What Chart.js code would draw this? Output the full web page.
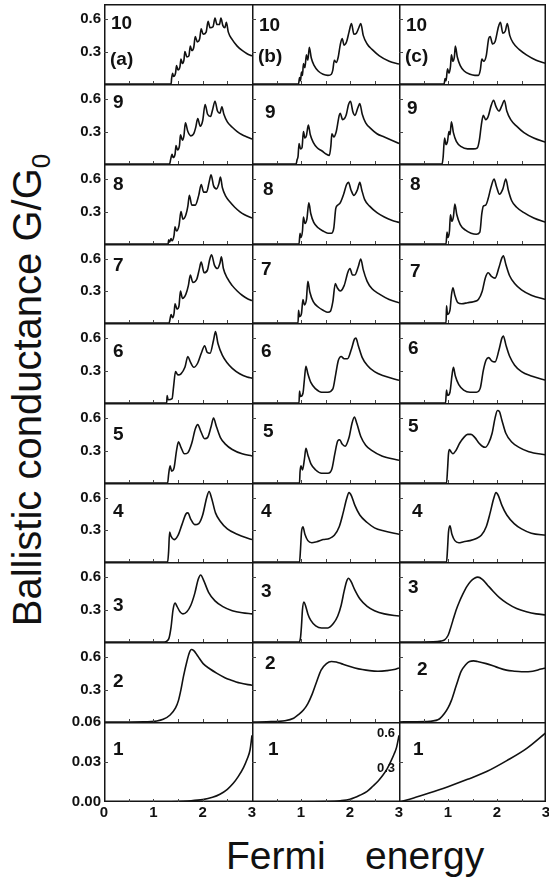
<!DOCTYPE html>
<html>
<head>
<meta charset="utf-8">
<script src="https://cdn.jsdelivr.net/npm/chart.js@4.4.1/dist/chart.umd.min.js"></script>
<style>
  body { margin: 0; background: #fff; width: 549px; height: 882px; position: relative; overflow: hidden;
         font-family: "Liberation Sans", Arial, sans-serif; color: #111; }
  canvas { position: absolute; }
  .num { position: absolute; font-weight: bold; font-size: 19px; line-height: 19px; white-space: nowrap; z-index: 2; }
  .stray { position: absolute; font-weight: bold; font-size: 13px; line-height: 13px; z-index: 2; }
  .ylab { position: absolute; font-size: 40px; line-height: 40px; width: 600px; height: 40px; text-align: center;
          transform: rotate(-90deg); white-space: nowrap; }
  .ylab sub { font-size: 26px; vertical-align: -9px; line-height: 0; }
  .xlab { position: absolute; font-size: 39px; line-height: 39px; white-space: nowrap; }
</style>
</head>
<body>
<div class="ylab" style="left:-273px; top:370px;">Ballistic conductance G/G<sub>0</sub></div>
<div class="xlab" style="left:226px; top:836px;">Fermi</div>
<div class="xlab" style="left:365px; top:836px;">energy</div>

<script>
// Fermi energy (x, 0..3) vs conductance G/G0 (y), one array per panel
// column (a)
const a10 = [[0,0],[1.36,0],[1.37,0.05],[1.39,0.10],[1.41,0.07],[1.45,0.10],[1.47,0.17],[1.50,0.13],[1.54,0.16],[1.56,0.23],[1.59,0.19],[1.62,0.22],[1.64,0.30],[1.68,0.25],[1.72,0.26],[1.75,0.35],[1.78,0.31],[1.82,0.34],[1.85,0.44],[1.89,0.39],[1.94,0.42],[1.97,0.51],[2.01,0.46],[2.07,0.48],[2.11,0.58],[2.15,0.52],[2.21,0.53],[2.25,0.61],[2.29,0.55],[2.34,0.55],[2.37,0.61],[2.41,0.54],[2.45,0.52],[2.48,0.57],[2.52,0.48],[2.6,0.41],[2.7,0.35],[2.8,0.31],[2.9,0.28],[3,0.26]];
const a9 = [[0,0],[1.33,0],[1.35,0.04],[1.38,0.09],[1.40,0.06],[1.44,0.09],[1.46,0.17],[1.49,0.13],[1.53,0.17],[1.55,0.27],[1.59,0.22],[1.62,0.26],[1.65,0.38],[1.70,0.30],[1.76,0.26],[1.82,0.28],[1.86,0.34],[1.90,0.42],[1.95,0.35],[2.00,0.40],[2.05,0.55],[2.10,0.46],[2.16,0.44],[2.20,0.50],[2.25,0.58],[2.30,0.49],[2.35,0.47],[2.39,0.53],[2.43,0.46],[2.5,0.39],[2.6,0.34],[2.7,0.30],[2.8,0.27],[2.9,0.25],[3,0.23]];
const a8 = [[0,0],[1.30,0],[1.31,0.04],[1.33,0.02],[1.36,0.05],[1.38,0.03],[1.42,0.08],[1.44,0.16],[1.47,0.12],[1.52,0.17],[1.56,0.30],[1.60,0.23],[1.66,0.27],[1.70,0.35],[1.73,0.45],[1.78,0.36],[1.85,0.36],[1.92,0.45],[1.97,0.55],[2.02,0.48],[2.08,0.48],[2.13,0.57],[2.17,0.64],[2.22,0.54],[2.28,0.51],[2.33,0.56],[2.36,0.62],[2.40,0.52],[2.47,0.44],[2.55,0.39],[2.65,0.34],[2.75,0.30],[2.85,0.27],[3,0.24]];
const a7 = [[0,0],[1.32,0],[1.34,0.04],[1.36,0.08],[1.39,0.05],[1.42,0.09],[1.44,0.18],[1.48,0.13],[1.52,0.16],[1.55,0.30],[1.59,0.23],[1.66,0.27],[1.71,0.35],[1.75,0.45],[1.80,0.38],[1.88,0.41],[1.93,0.50],[1.97,0.57],[2.03,0.47],[2.10,0.50],[2.14,0.59],[2.18,0.64],[2.24,0.54],[2.30,0.51],[2.35,0.56],[2.38,0.62],[2.42,0.51],[2.5,0.42],[2.6,0.35],[2.7,0.30],[2.8,0.26],[2.9,0.23],[3,0.21]];
const a6 = [[0,0],[1.27,0],[1.28,0.07],[1.30,0.03],[1.38,0.04],[1.41,0.15],[1.45,0.29],[1.50,0.26],[1.56,0.27],[1.64,0.33],[1.70,0.43],[1.75,0.38],[1.82,0.33],[1.90,0.37],[1.98,0.47],[2.04,0.53],[2.09,0.47],[2.15,0.46],[2.22,0.58],[2.26,0.66],[2.31,0.55],[2.40,0.44],[2.5,0.37],[2.6,0.32],[2.75,0.27],[2.9,0.24],[3,0.23]];
const a5 = [[0,0],[1.29,0],[1.31,0.08],[1.34,0.16],[1.37,0.11],[1.42,0.14],[1.47,0.30],[1.51,0.38],[1.56,0.33],[1.63,0.27],[1.70,0.28],[1.78,0.37],[1.85,0.50],[1.90,0.54],[1.96,0.48],[2.04,0.41],[2.10,0.42],[2.17,0.52],[2.22,0.60],[2.28,0.52],[2.36,0.42],[2.46,0.36],[2.6,0.31],[2.8,0.27],[3,0.25]];
const a4 = [[0,0],[1.29,0],[1.31,0.10],[1.33,0.28],[1.36,0.24],[1.42,0.21],[1.50,0.25],[1.58,0.35],[1.66,0.45],[1.70,0.46],[1.76,0.40],[1.84,0.35],[1.92,0.36],[2.00,0.44],[2.08,0.60],[2.13,0.66],[2.18,0.60],[2.26,0.46],[2.36,0.38],[2.5,0.31],[2.7,0.26],[3,0.21]];
const a3 = [[0,0],[1.22,0],[1.28,0.01],[1.32,0.04],[1.36,0.14],[1.40,0.30],[1.44,0.36],[1.48,0.33],[1.54,0.28],[1.60,0.26],[1.68,0.28],[1.76,0.34],[1.84,0.45],[1.91,0.58],[1.96,0.62],[2.02,0.57],[2.12,0.46],[2.25,0.38],[2.4,0.33],[2.6,0.29],[2.8,0.27],[3,0.26]];
const a2 = [[0,0],[0.8,0.002],[1.07,0.01],[1.2,0.025],[1.34,0.065],[1.45,0.13],[1.51,0.20],[1.56,0.30],[1.61,0.42],[1.68,0.56],[1.73,0.64],[1.77,0.67],[1.82,0.66],[1.90,0.61],[2.01,0.54],[2.15,0.49],[2.29,0.45],[2.45,0.41],[2.56,0.39],[2.76,0.36],[3,0.34]];
const a1 = [[0,0],[1.0,0],[1.5,0.0004],[1.7,0.0008],[2.0,0.0018],[2.2,0.0035],[2.35,0.0058],[2.5,0.0095],[2.62,0.014],[2.72,0.019],[2.83,0.026],[2.9,0.032],[2.96,0.039],[3,0.05]];
// column (b)
const b10 = [[0,0],[0.95,0],[0.97,0.06],[0.99,0.03],[1.01,0.11],[1.03,0.08],[1.05,0.19],[1.08,0.15],[1.11,0.27],[1.14,0.22],[1.17,0.34],[1.21,0.24],[1.27,0.17],[1.35,0.12],[1.45,0.09],[1.55,0.08],[1.62,0.09],[1.65,0.13],[1.68,0.22],[1.72,0.20],[1.76,0.25],[1.80,0.36],[1.84,0.42],[1.88,0.36],[1.93,0.39],[1.98,0.48],[2.03,0.56],[2.08,0.46],[2.13,0.47],[2.18,0.52],[2.22,0.56],[2.27,0.45],[2.35,0.37],[2.45,0.32],[2.6,0.26],[2.8,0.21],[3,0.185]];
const b9 = [[0,0],[0.90,0],[0.92,0.04],[0.94,0.07],[0.96,0.19],[0.99,0.14],[1.02,0.15],[1.05,0.30],[1.08,0.24],[1.11,0.26],[1.15,0.36],[1.19,0.27],[1.25,0.20],[1.33,0.15],[1.43,0.12],[1.52,0.09],[1.58,0.08],[1.61,0.17],[1.63,0.28],[1.67,0.25],[1.72,0.30],[1.78,0.45],[1.80,0.47],[1.85,0.41],[1.92,0.45],[1.97,0.55],[2.01,0.58],[2.06,0.48],[2.10,0.45],[2.16,0.52],[2.20,0.56],[2.25,0.46],[2.32,0.38],[2.42,0.33],[2.55,0.28],[2.7,0.25],[2.85,0.22],[3,0.19]];
const b8 = [[0,0],[0.96,0],[0.98,0.10],[1.00,0.06],[1.03,0.12],[1.05,0.25],[1.08,0.19],[1.12,0.23],[1.16,0.38],[1.20,0.28],[1.26,0.20],[1.35,0.15],[1.45,0.12],[1.55,0.10],[1.62,0.10],[1.67,0.15],[1.71,0.33],[1.75,0.36],[1.80,0.38],[1.87,0.46],[1.93,0.55],[1.97,0.57],[2.02,0.50],[2.08,0.45],[2.15,0.50],[2.20,0.57],[2.24,0.50],[2.30,0.41],[2.40,0.35],[2.55,0.29],[2.7,0.25],[2.85,0.22],[3,0.20]];
const b7 = [[0,0],[0.94,0],[0.95,0.12],[0.97,0.06],[1.01,0.09],[1.04,0.22],[1.07,0.17],[1.11,0.22],[1.14,0.39],[1.18,0.29],[1.25,0.20],[1.35,0.15],[1.45,0.12],[1.55,0.10],[1.60,0.11],[1.65,0.20],[1.70,0.37],[1.74,0.33],[1.80,0.30],[1.88,0.35],[1.96,0.48],[2.00,0.51],[2.05,0.45],[2.10,0.45],[2.17,0.53],[2.22,0.60],[2.27,0.50],[2.35,0.39],[2.45,0.32],[2.6,0.27],[2.8,0.22],[3,0.19]];
const b6 = [[0,0],[0.96,0],[0.97,0.11],[0.99,0.06],[1.04,0.09],[1.07,0.22],[1.10,0.34],[1.14,0.27],[1.20,0.19],[1.30,0.13],[1.42,0.10],[1.55,0.10],[1.65,0.13],[1.71,0.27],[1.76,0.39],[1.82,0.43],[1.88,0.41],[1.95,0.41],[2.03,0.50],[2.09,0.59],[2.12,0.60],[2.17,0.53],[2.25,0.42],[2.35,0.35],[2.5,0.29],[2.7,0.25],[3,0.21]];
const b5 = [[0,0],[0.97,0],[0.98,0.10],[1.00,0.16],[1.03,0.12],[1.07,0.22],[1.10,0.32],[1.14,0.26],[1.20,0.18],[1.30,0.12],[1.42,0.09],[1.55,0.09],[1.63,0.13],[1.69,0.27],[1.75,0.39],[1.79,0.40],[1.84,0.36],[1.90,0.34],[1.98,0.42],[2.04,0.55],[2.09,0.61],[2.14,0.55],[2.22,0.43],[2.32,0.35],[2.45,0.30],[2.65,0.25],[3,0.21]];
const b4 = [[0,0],[0.97,0],[0.99,0.12],[1.01,0.28],[1.04,0.33],[1.08,0.26],[1.14,0.20],[1.22,0.18],[1.32,0.19],[1.45,0.21],[1.58,0.22],[1.68,0.25],[1.78,0.33],[1.86,0.46],[1.93,0.59],[1.98,0.65],[2.03,0.62],[2.10,0.53],[2.20,0.44],[2.35,0.37],[2.5,0.32],[2.7,0.29],[3,0.26]];
const b3 = [[0,0],[0.96,0],[0.99,0.04],[1.01,0.15],[1.03,0.30],[1.06,0.37],[1.09,0.34],[1.14,0.26],[1.20,0.20],[1.30,0.15],[1.42,0.13],[1.55,0.13],[1.66,0.17],[1.75,0.24],[1.82,0.34],[1.88,0.47],[1.93,0.56],[1.97,0.59],[2.02,0.56],[2.10,0.48],[2.2,0.40],[2.35,0.33],[2.5,0.29],[2.7,0.26],[3,0.24]];
const b2 = [[0,0],[0.3,0.002],[0.67,0.012],[0.85,0.035],[0.94,0.065],[1.05,0.11],[1.14,0.17],[1.23,0.26],[1.31,0.36],[1.41,0.48],[1.52,0.54],[1.62,0.56],[1.72,0.555],[1.82,0.54],[1.95,0.52],[2.1,0.50],[2.25,0.485],[2.4,0.475],[2.57,0.47],[2.75,0.475],[2.9,0.485],[3,0.50]];
const b1 = [[0,0],[1.0,0],[1.5,0.0003],[1.8,0.0009],[2.0,0.002],[2.2,0.005],[2.35,0.008],[2.47,0.012],[2.58,0.016],[2.67,0.02],[2.76,0.025],[2.84,0.031],[2.9,0.036],[2.95,0.041],[3,0.05]];
// column (c)
const c10 = [[0,0],[0.92,0],[0.94,0.05],[0.96,0.03],[0.99,0.14],[1.02,0.10],[1.05,0.16],[1.07,0.27],[1.10,0.21],[1.13,0.25],[1.15,0.35],[1.19,0.25],[1.25,0.17],[1.33,0.12],[1.45,0.09],[1.55,0.08],[1.62,0.08],[1.66,0.13],[1.69,0.23],[1.73,0.21],[1.78,0.26],[1.83,0.42],[1.86,0.44],[1.91,0.37],[1.96,0.39],[2.03,0.53],[2.07,0.57],[2.12,0.47],[2.17,0.49],[2.21,0.56],[2.26,0.45],[2.33,0.38],[2.45,0.32],[2.6,0.27],[2.8,0.22],[3,0.19]];
const c9 = [[0,0],[0.88,0],[0.90,0.06],[0.93,0.24],[0.96,0.18],[0.99,0.21],[1.02,0.30],[1.04,0.27],[1.07,0.39],[1.11,0.29],[1.17,0.21],[1.27,0.16],[1.40,0.14],[1.52,0.14],[1.60,0.15],[1.64,0.22],[1.68,0.36],[1.72,0.45],[1.77,0.41],[1.82,0.44],[1.88,0.54],[1.93,0.59],[1.98,0.53],[2.04,0.49],[2.10,0.54],[2.15,0.59],[2.20,0.49],[2.28,0.41],[2.4,0.35],[2.55,0.29],[2.75,0.24],[3,0.20]];
const c8 = [[0,0],[0.96,0],[0.98,0.11],[1.00,0.06],[1.03,0.12],[1.05,0.27],[1.08,0.21],[1.11,0.25],[1.14,0.37],[1.18,0.27],[1.25,0.18],[1.35,0.13],[1.47,0.10],[1.58,0.09],[1.65,0.11],[1.69,0.28],[1.72,0.35],[1.77,0.36],[1.82,0.42],[1.88,0.53],[1.94,0.60],[1.99,0.53],[2.05,0.46],[2.12,0.51],[2.18,0.60],[2.23,0.50],[2.30,0.40],[2.4,0.34],[2.55,0.29],[2.75,0.24],[3,0.20]];
const c7 = [[0,0],[0.96,0],[0.97,0.16],[0.99,0.08],[1.04,0.12],[1.07,0.26],[1.10,0.33],[1.14,0.26],[1.20,0.19],[1.28,0.18],[1.40,0.19],[1.52,0.20],[1.62,0.22],[1.70,0.30],[1.76,0.42],[1.82,0.47],[1.88,0.44],[1.96,0.42],[2.04,0.52],[2.10,0.61],[2.13,0.63],[2.18,0.55],[2.26,0.44],[2.36,0.37],[2.5,0.31],[2.7,0.26],[3,0.22]];
const c6 = [[0,0],[0.95,0],[0.97,0.12],[0.99,0.07],[1.04,0.10],[1.08,0.25],[1.11,0.33],[1.15,0.25],[1.22,0.17],[1.32,0.12],[1.45,0.10],[1.58,0.10],[1.66,0.14],[1.72,0.30],[1.78,0.40],[1.83,0.42],[1.89,0.39],[1.96,0.38],[2.04,0.49],[2.10,0.60],[2.13,0.62],[2.18,0.54],[2.26,0.43],[2.36,0.35],[2.5,0.29],[2.7,0.25],[3,0.21]];
const c5 = [[0,0],[0.97,0],[0.99,0.12],[1.01,0.27],[1.03,0.31],[1.06,0.29],[1.10,0.27],[1.16,0.30],[1.24,0.37],[1.32,0.42],[1.40,0.45],[1.47,0.45],[1.55,0.42],[1.63,0.37],[1.70,0.34],[1.76,0.33],[1.83,0.37],[1.90,0.46],[1.96,0.60],[2.01,0.67],[2.05,0.66],[2.10,0.58],[2.18,0.46],[2.3,0.38],[2.45,0.33],[2.65,0.29],[3,0.26]];
const c4 = [[0,0],[0.97,0],[0.99,0.12],[1.01,0.28],[1.04,0.34],[1.08,0.26],[1.14,0.20],[1.22,0.18],[1.32,0.19],[1.45,0.20],[1.58,0.22],[1.68,0.25],[1.78,0.33],[1.86,0.46],[1.93,0.59],[1.98,0.65],[2.03,0.62],[2.10,0.53],[2.20,0.44],[2.35,0.36],[2.5,0.31],[2.7,0.27],[3,0.25]];
const c3 = [[0,0],[0.7,0.002],[0.85,0.008],[0.93,0.02],[1.0,0.06],[1.04,0.11],[1.10,0.20],[1.17,0.30],[1.23,0.37],[1.30,0.44],[1.38,0.51],[1.46,0.56],[1.54,0.59],[1.61,0.60],[1.70,0.58],[1.80,0.53],[1.92,0.47],[2.05,0.41],[2.2,0.36],[2.4,0.31],[2.6,0.28],[2.8,0.26],[3,0.25]];
const c2 = [[0,0],[0.3,0.002],[0.63,0.006],[0.83,0.03],[0.93,0.08],[1.0,0.13],[1.07,0.20],[1.17,0.34],[1.27,0.47],[1.36,0.53],[1.44,0.56],[1.52,0.565],[1.6,0.56],[1.78,0.54],[1.98,0.51],[2.19,0.48],[2.35,0.47],[2.5,0.465],[2.73,0.47],[2.9,0.49],[3,0.50]];
const c1 = [[0,0],[0.3,0.003],[0.6,0.0065],[1.0,0.0115],[1.4,0.017],[1.8,0.023],[2.2,0.031],[2.6,0.040],[3,0.052]];

const rowNames = [10, 9, 8, 7, 6, 5, 4, 3, 2, 1];
const colNames = ['(a)', '(b)', '(c)'];
const series = [
  [a10, a9, a8, a7, a6, a5, a4, a3, a2, a1],
  [b10, b9, b8, b7, b6, b5, b4, b3, b2, b1],
  [c10, c9, c8, c7, c6, c5, c4, c3, c2, c1]
];
const yTicks = [0.3, 0.6];
const yTicksLow = [0, 0.03, 0.06];
const xTicksFirst = [0, 1, 2, 3];
const xTicksRest = [1, 2, 3];
const xMinor = [0.5, 1, 1.5, 2, 2.5];

// panel geometry (px)
const colLeft = [104, 252, 399];
const colRight = [252, 399, 546];
const rowTop = [4, 84, 164, 244, 323, 403, 483, 562, 642, 722];
const rowBottom = 802;
// label centres for the panel numbers
const numX = [[111, 113, 113, 113, 113, 113, 113, 113, 113, 113],
              [259, 265, 263, 261, 261, 263, 261, 261, 265, 268],
              [406, 407, 410, 410, 408, 408, 412, 408, 417, 413]];
const numY = [[22, 101, 183, 264, 350, 433, 510, 604, 680, 748],
              [24, 111, 188, 268, 350, 430, 510, 590, 662, 748],
              [24, 107, 183, 270, 347, 425, 510, 586, 668, 748]];

const tickFont = { family: '"Liberation Sans", Arial, sans-serif', size: 15, weight: 'bold' };

// panel box plus the short inward tick marks
const frame = {
  id: 'frame',
  afterDraw(chart, args, opts) {
    const { ctx, chartArea: a, scales } = chart;
    ctx.save();
    ctx.strokeStyle = '#151515';
    ctx.lineWidth = 1.5;
    ctx.beginPath();
    ctx.moveTo(a.left + 0.75, a.top); ctx.lineTo(a.left + 0.75, a.bottom);
    ctx.moveTo(a.left, a.top + 0.75); ctx.lineTo(a.right, a.top + 0.75);
    if (opts.right) { ctx.moveTo(a.right - 0.75, a.top); ctx.lineTo(a.right - 0.75, a.bottom); }
    if (opts.bottom) { ctx.moveTo(a.left, a.bottom - 0.75); ctx.lineTo(a.right, a.bottom - 0.75); }
    ctx.stroke();
    ctx.lineWidth = 1;
    ctx.strokeStyle = '#444';
    ctx.beginPath();
    opts.yMarks.forEach(v => {
      const y = Math.round(scales.y.getPixelForValue(v)) + 0.5;
      ctx.moveTo(a.left, y); ctx.lineTo(a.left + 4, y);
    });
    opts.xMarks.forEach(v => {
      const x = Math.round(scales.x.getPixelForValue(v)) + 0.5;
      ctx.moveTo(x, a.bottom - 3); ctx.lineTo(x, a.bottom);
    });
    ctx.stroke();
    ctx.restore();
  }
};

function addLabel(cls, text, x, y) {
  const d = document.createElement('div');
  d.className = cls;
  d.textContent = text;
  d.style.left = x + 'px';
  d.style.top = y + 'px';
  document.body.appendChild(d);
  return d;
}

series.forEach((colSeries, c) => {
  colSeries.forEach((data, r) => {
    const bottomRow = r === 9;
    const firstCol = c === 0;
    const top = rowTop[r];
    const bot = r < 9 ? rowTop[r + 1] : rowBottom;
    const padL = firstCol ? 44 : (bottomRow ? 10 : 0);
    const padR = bottomRow ? 10 : 0;
    const padT = bottomRow && firstCol ? 10 : 0;
    const padB = bottomRow ? 20 : 0;

    const cv = document.createElement('canvas');
    const w = colRight[c] - colLeft[c] + padL + padR;
    const h = bot - top + padT + padB;
    cv.width = w; cv.height = h;
    cv.style.left = (colLeft[c] - padL) + 'px';
    cv.style.top = (top - padT) + 'px';
    document.body.appendChild(cv);

    const yVals = bottomRow ? yTicksLow : yTicks;
    const xVals = firstCol ? xTicksFirst : xTicksRest;

    new Chart(cv, {
      type: 'line',
      data: {
        datasets: [{
          data: data,
          borderColor: '#111',
          borderWidth: 1.6,
          pointRadius: 0,
          cubicInterpolationMode: 'monotone',
          fill: false
        }]
      },
      options: {
        responsive: false,
        animation: false,
        devicePixelRatio: 1,
        events: [],
        layout: { padding: { left: firstCol ? 0 : padL, right: padR, top: padT, bottom: 0 } },
        plugins: {
          legend: { display: false }, tooltip: { enabled: false },
          frame: { right: c === 2, bottom: bottomRow, xMarks: xMinor,
                   yMarks: bottomRow ? [0.03] : yTicks }
        },
        scales: {
          x: {
            type: 'linear', min: 0, max: 3,
            display: bottomRow,
            grid: { display: false, drawTicks: false },
            border: { display: false },
            ticks: { font: tickFont, color: '#111', padding: 2, maxRotation: 0 },
            afterBuildTicks: s => { s.ticks = xVals.map(v => ({ value: v })); },
            afterFit: s => {
              if (bottomRow) s.height = 20;
              s.paddingLeft = 0; s.paddingRight = 0;
            }
          },
          y: {
            min: 0, max: bottomRow ? 0.06 : 0.74,
            display: firstCol,
            grid: { display: false, drawTicks: false },
            border: { display: false },
            ticks: { font: tickFont, color: '#111', padding: 3,
                     callback: v => bottomRow ? v.toFixed(2) : String(v) },
            afterBuildTicks: s => { s.ticks = yVals.map(v => ({ value: v })); },
            afterFit: s => {
              if (firstCol) s.width = 44;
              s.paddingTop = 0; s.paddingBottom = 0;
            }
          }
        }
      },
      plugins: [frame]
    });

    // panel number, plus the column letter in the top row
    addLabel('num', String(rowNames[r]), numX[c][r], numY[c][r] - 9.3);
    if (r === 0) addLabel('num', colNames[c], numX[c][r] - 1, (c === 0 ? 60 : 57) - 11.2);
  });
});

// stray axis labels left over in panel (b)1
const s1 = addLabel('stray', '0.6', 0, 726); s1.style.left = 'auto'; s1.style.right = (549 - 395) + 'px';
const s2 = addLabel('stray', '0.3', 0, 761); s2.style.left = 'auto'; s2.style.right = (549 - 395) + 'px';
</script>
</body>
</html>
